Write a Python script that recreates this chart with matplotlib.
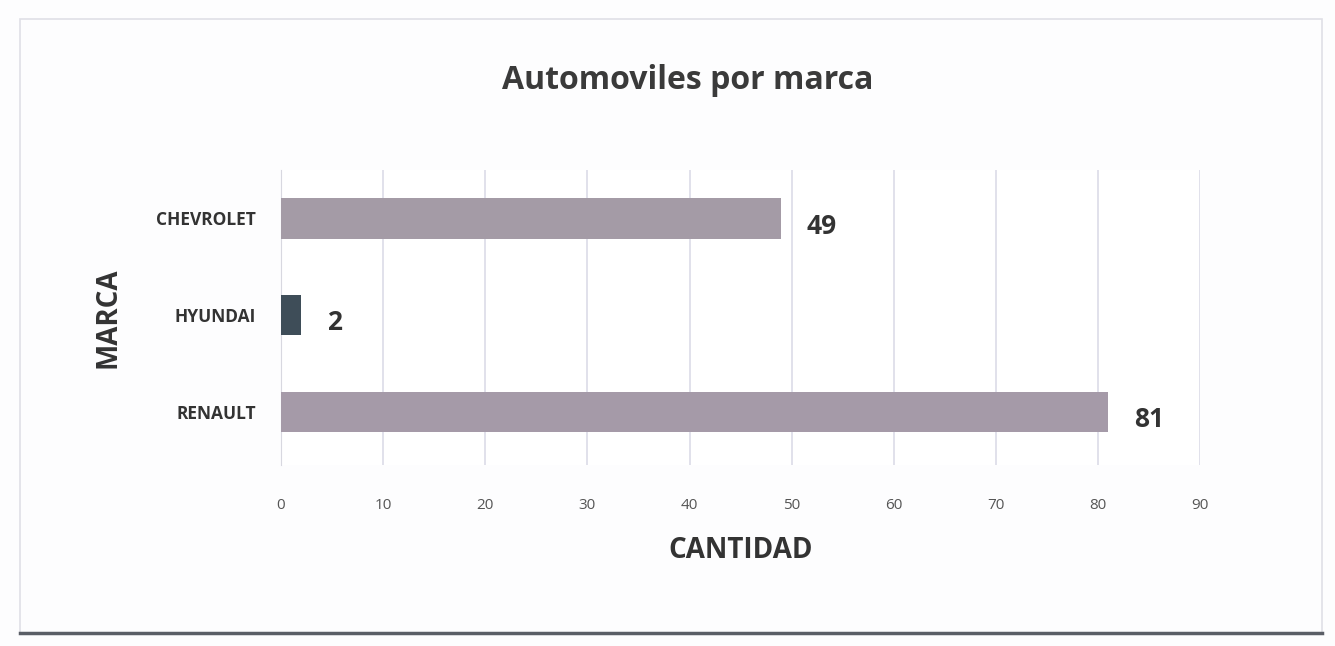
import matplotlib.pyplot as plt
from matplotlib.patches import Rectangle

# datos del grafico
marcas = ["RENAULT", "HYUNDAI", "CHEVROLET"]
cantidad = [81, 2, 49]
colores = ["#a59aa8", "#3e4d58", "#a49ba6"]
ticks_x = [0, 10, 20, 30, 40, 50, 60, 70, 80, 90]

plt.rcParams['font.family'] = ['Open Sans', 'DejaVu Sans']

fig = plt.figure(figsize=(13.35, 6.46), dpi=100)
fig.patch.set_facecolor("#fdfdfe")
ax = fig.add_axes([0.2105, 0.28, 0.6885, 0.457])

pos = range(len(marcas))
ax.barh(pos, cantidad, height=0.42, color=colores, zorder=3)
for p, v in zip(pos, cantidad):
    ax.text(v + 2.5, p - 0.08, str(v), va="center", ha="left",
            fontsize=19, fontweight="bold", color="#333333")

ax.set_xlim(0, 90)
ax.set_ylim(-0.55, 2.5)
ax.set_xticks(ticks_x)
ax.set_xticklabels([str(t) for t in ticks_x], fontsize=11, color="#555555")
ax.set_yticks(list(pos))
ax.set_yticklabels(marcas, fontsize=12.5, fontweight="bold", color="#333333")
ax.tick_params(length=0, pad=18)
ax.tick_params(axis="x", pad=24)

ax.grid(axis="x", color="#dcdbe8", linewidth=1.2, zorder=0)
for s in ["top", "right", "bottom"]:
    ax.spines[s].set_visible(False)
ax.spines["left"].set_color("#d8d8e0")

ax.set_xlabel("CANTIDAD", fontsize=20, fontweight="bold", color="#333333", labelpad=16)
ax.set_ylabel("MARCA", fontsize=20, fontweight="bold", color="#333333", labelpad=24)
fig.text(0.515, 0.875, "Automoviles por marca", ha="center", va="center",
         fontsize=23, fontweight="bold", color="#3a3a3a")

# marco del grafico
fig.patches.append(Rectangle((0.015, 0.02), 0.975, 0.95, transform=fig.transFigure,
                             fill=False, edgecolor="#e0e0e6", linewidth=1.2))
fig.lines.append(plt.Line2D([0.015, 0.99], [0.02, 0.02], transform=fig.transFigure,
                            color="#5a5e66", linewidth=2.5))

fig.savefig("out.png", dpi=100)
